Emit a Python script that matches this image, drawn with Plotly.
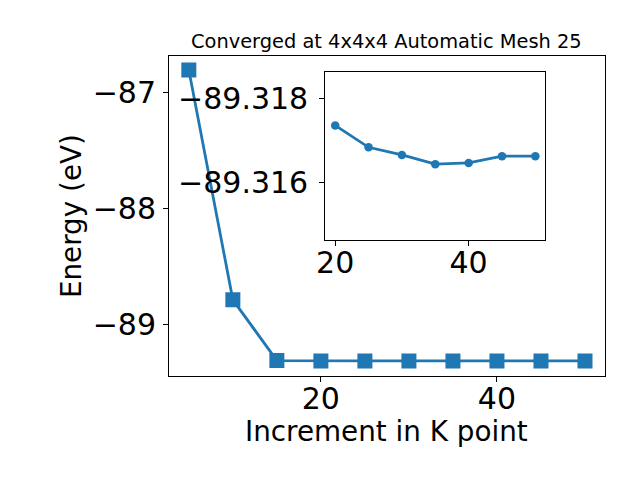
import plotly.graph_objects as go

k_points = [5, 10, 15, 20, 25, 30, 35, 40, 45, 50]
energies = [-86.81, -88.79, -89.313, -89.31736, -89.31684, -89.31666,
            -89.31644, -89.31647, -89.31663, -89.31663]
inset_k = k_points[3:]
inset_e = energies[3:]

title_text = "Converged at 4x4x4 Automatic Mesh 25"
x_label = "Increment in K point"
y_label = "Energy (eV)"
main_xticks = [20, 40]
main_yticks = [-89, -88, -87]
inset_xticks = [20, 40]
inset_yticks = [-89.318, -89.316]

W, H = 640, 480
BLUE = "#1f77b4"
FONT = "DejaVu Sans"


def px_x(p):
    return p / W


def px_y(p):
    return 1 - p / H


fig = go.Figure()
fig.add_trace(go.Scatter(
    x=k_points, y=energies, mode="lines+markers",
    line=dict(color=BLUE, width=2.8),
    marker=dict(symbol="square", size=15, color=BLUE),
    xaxis="x", yaxis="y", showlegend=False,
))
fig.add_trace(go.Scatter(
    x=inset_k, y=inset_e, mode="lines+markers",
    line=dict(color=BLUE, width=2.8),
    marker=dict(symbol="circle", size=8.5, color=BLUE),
    xaxis="x2", yaxis="y2", showlegend=False,
))

axis_common = dict(
    showgrid=False, zeroline=False, showline=True, mirror=True,
    linecolor="black", linewidth=1, ticks="outside", ticklen=5,
    tickwidth=1, tickcolor="black",
    tickfont=dict(family=FONT, size=30, color="black"),
)

fig.update_layout(
    width=W, height=H,
    margin=dict(l=0, r=0, t=0, b=0),
    paper_bgcolor="white", plot_bgcolor="white",
    xaxis=dict(domain=[px_x(162.3), px_x(604.3)], range=[2.75, 52.25],
               tickvals=main_xticks, anchor="y", ticklabelstandoff=-9,
               **axis_common),
    yaxis=dict(domain=[px_y(375.5), px_y(55.5)], range=[-89.442, -86.685],
               tickvals=main_yticks, anchor="x", ticklabelstandoff=1,
               **axis_common),
    xaxis2=dict(domain=[px_x(320.7), px_x(544)], range=[18.5, 51.5],
                tickvals=inset_xticks, anchor="y2", ticklabelstandoff=-9,
                **axis_common),
    yaxis2=dict(domain=[px_y(240), px_y(72.3)],
                range=[-89.31464, -89.31862],
                tickvals=inset_yticks, tickformat=".3f", anchor="x2",
                ticklabelstandoff=5, **axis_common),
    annotations=[
        dict(text=title_text, x=px_x(383), y=px_y(41), xref="paper",
             yref="paper", xanchor="center", yanchor="middle",
             showarrow=False, font=dict(family=FONT, size=19.4, color="black")),
        dict(text=x_label, x=px_x(383), y=px_y(431), xref="paper",
             yref="paper", xanchor="center", yanchor="middle",
             showarrow=False, font=dict(family=FONT, size=27.8, color="black")),
        dict(text=y_label, x=px_x(64), y=px_y(216), xref="paper",
             yref="paper", xanchor="center", yanchor="middle", textangle=-90,
             showarrow=False, font=dict(family=FONT, size=27.8, color="black")),
    ],
)

fig.write_html("out.html", config={"displayModeBar": False},
               post_script="document.body.style.margin='0px';")
